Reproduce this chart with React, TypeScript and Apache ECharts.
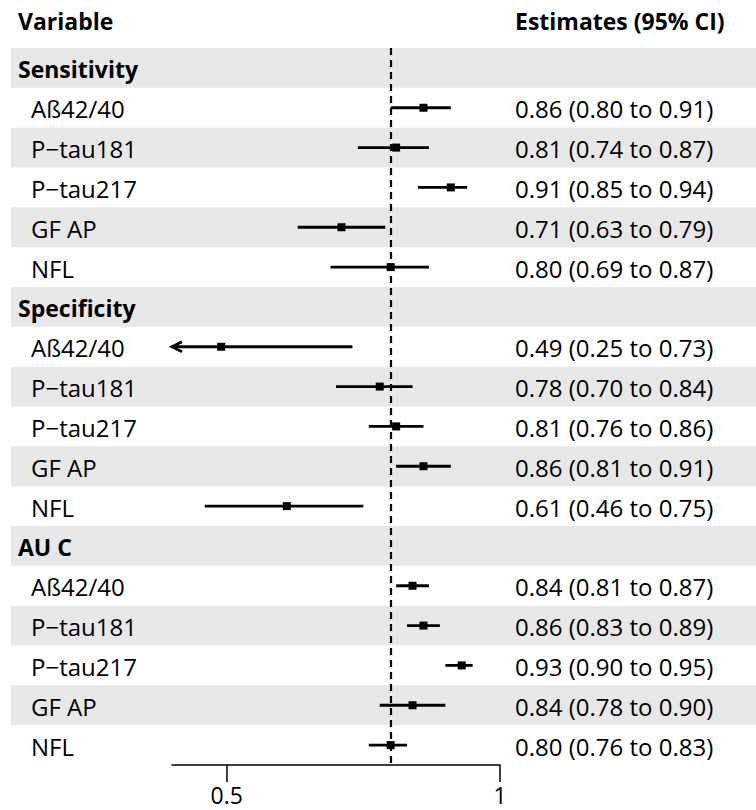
import React, { useEffect, useRef } from "react";
import * as echarts from "echarts";

const groupNames = ["Sensitivity", "Specificity", "AU C"];
const markerNames = ["Aß42/40", "P−tau181", "P−tau217", "GF AP", "NFL"];

const sensitivityEst = [0.86, 0.81, 0.91, 0.71, 0.8];
const sensitivityLo = [0.8, 0.74, 0.85, 0.63, 0.69];
const sensitivityHi = [0.91, 0.87, 0.94, 0.79, 0.87];

const specificityEst = [0.49, 0.78, 0.81, 0.86, 0.61];
const specificityLo = [0.25, 0.7, 0.76, 0.81, 0.46];
const specificityHi = [0.73, 0.84, 0.86, 0.91, 0.75];

const aucEst = [0.84, 0.86, 0.93, 0.84, 0.8];
const aucLo = [0.81, 0.83, 0.9, 0.78, 0.76];
const aucHi = [0.87, 0.89, 0.95, 0.9, 0.83];

const xTicks = [0.5, 1];
const refValue = 0.8;
const xMin = 0.4;
const xMax = 1;

const FONT = "'Open Sans', sans-serif";

type Row = { label: string; group: boolean; est?: number; lo?: number; hi?: number };

function buildRows(): Row[] {
  const sets = [
    [sensitivityEst, sensitivityLo, sensitivityHi],
    [specificityEst, specificityLo, specificityHi],
    [aucEst, aucLo, aucHi],
  ];
  const rows: Row[] = [];
  groupNames.forEach((g, gi) => {
    rows.push({ label: g, group: true });
    markerNames.forEach((m, mi) => {
      rows.push({ label: m, group: false, est: sets[gi][0][mi], lo: sets[gi][1][mi], hi: sets[gi][2][mi] });
    });
  });
  return rows;
}

const fmt = (v: number) => v.toFixed(2);

export default function App() {
  const ref = useRef<HTMLDivElement>(null);
  useEffect(() => {
    document.body.style.margin = "0";
    if (!ref.current) return;
    const chart = echarts.init(ref.current, null, { renderer: "svg" });
    const rows = buildRows();
    const cats = rows.map((_, i) => String(i));
    const bandData = rows.map((r, i) => [xMin, i]);
    const ciData = rows
      .map((r, i) => (r.group ? null : [r.est, i, r.lo, r.hi]))
      .filter((d) => d !== null);

    const option: any = {
      animation: false,
      grid: { left: 172, right: 256, top: 48, bottom: 45, containLabel: false },
      xAxis: {
        type: "value",
        min: xMin,
        max: xMax,
        splitLine: { show: false },
        axisLine: { show: true, lineStyle: { color: "#000", width: 1.5 } },
        axisTick: { show: true, customValues: xTicks, length: 17, lineStyle: { color: "#000", width: 1.5 } },
        axisLabel: {
          customValues: xTicks,
          fontSize: 23,
          fontFamily: FONT,
          color: "#000",
          margin: 18,
          formatter: (v: number) => String(v),
        },
      },
      yAxis: {
        type: "category",
        data: cats,
        inverse: true,
        show: false,
      },
      series: [
        {
          type: "custom",
          clip: false,
          z: 1,
          data: bandData,
          renderItem: (params: any, api: any) => {
            const i = api.value(1);
            const c = api.coord([xMin, i]);
            const h = api.size([0, 1])[1];
            const r = rows[i];
            const children: any[] = [];
            if (i % 2 === 0) {
              children.push({
                type: "rect",
                shape: { x: 11, y: c[1] - h / 2, width: 756 - 11, height: h },
                style: { fill: "#e8e8e8" },
                z2: 0,
              });
            }
            children.push({
              type: "text",
              x: r.group ? 18 : 31,
              y: c[1] + 1,
              style: {
                text: r.label,
                fill: "#000",
                fontSize: r.group ? 23 : 24,
                fontFamily: FONT,
                fontWeight: r.group ? "bold" : "normal",
                verticalAlign: "middle",
                align: "left",
              },
              z2: 5,
            });
            if (!r.group) {
              children.push({
                type: "text",
                x: 515,
                y: c[1] + 1,
                style: {
                  text: `${fmt(r.est as number)} (${fmt(r.lo as number)} to ${fmt(r.hi as number)})`,
                  fill: "#000",
                  fontSize: 24,
                  fontFamily: FONT,
                  verticalAlign: "middle",
                  align: "left",
                },
                z2: 5,
              });
            }
            return { type: "group", children };
          },
        },
        {
          type: "custom",
          clip: false,
          z: 3,
          data: ciData,
          renderItem: (params: any, api: any) => {
            const est = api.value(0);
            const i = api.value(1);
            const lo = api.value(2);
            const hi = api.value(3);
            const clipped = lo < xMin;
            const pLo = api.coord([Math.max(lo, xMin), i]);
            const pHi = api.coord([Math.min(hi, xMax), i]);
            const pE = api.coord([est, i]);
            const children: any[] = [
              {
                type: "line",
                shape: { x1: pLo[0], y1: pLo[1], x2: pHi[0], y2: pHi[1] },
                style: { stroke: "#000", lineWidth: 2.8 },
              },
              {
                type: "rect",
                shape: { x: pE[0] - 4, y: pE[1] - 4, width: 8, height: 8 },
                style: { fill: "#000" },
              },
            ];
            if (clipped) {
              children.push({
                type: "polyline",
                shape: { points: [[pLo[0] + 10, pLo[1] - 5], [pLo[0], pLo[1]], [pLo[0] + 10, pLo[1] + 5]] },
                style: { stroke: "#000", lineWidth: 2.8, fill: null },
              });
            }
            return { type: "group", children };
          },
          markLine: {
            silent: true,
            symbol: "none",
            label: { show: false },
            lineStyle: { color: "#000", type: [7, 5], width: 2.2 },
            data: [{ xAxis: refValue }],
          },
        },
      ],
      graphic: [
        {
          type: "text",
          left: 18,
          top: 9,
          style: { text: "Variable", fontSize: 23, fontWeight: "bold", fontFamily: FONT, fill: "#000" },
        },
        {
          type: "text",
          left: 515,
          top: 9,
          style: { text: "Estimates (95% CI)", fontSize: 23, fontWeight: "bold", fontFamily: FONT, fill: "#000" },
        },
      ],
    };
    chart.setOption(option);
    return () => chart.dispose();
  }, []);
  return <div ref={ref} style={{ width: 756, height: 810 }} />;
}
